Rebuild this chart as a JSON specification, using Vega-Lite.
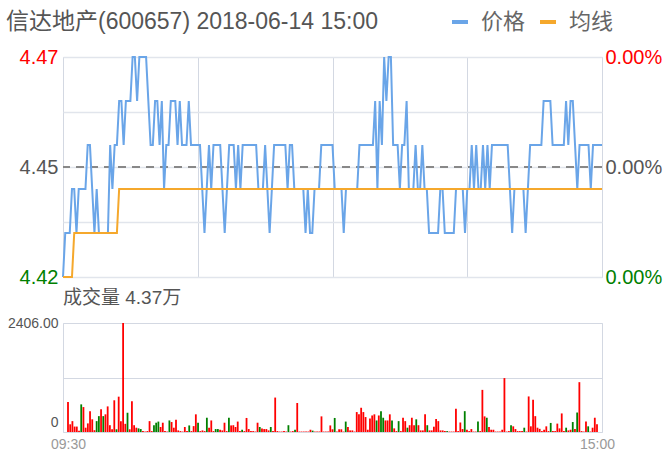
{
"$schema": "https://vega.github.io/schema/vega-lite/v6.json",
"autosize": {"type": "pad"},
"padding": {"left": 5, "top": 10, "right": 5, "bottom": 0},
"background": "white",
"bounds": "flush",
"spacing": 46,
"config": {"view": {"stroke": "#d3d8e2", "strokeWidth": 1}, "font": "Liberation Sans, Noto Sans CJK SC", "axis": {"labelFont": "Liberation Sans"}},
"resolve": {"scale": {"color": "independent"}, "legend": {"color": "independent"}},
"datasets": {"m": [
{"i":0,"p":4.42,"a":4.42,"v":660,"d":"r"},{"i":1,"p":4.43,"a":4.42,"v":170,"d":"r"},{"i":2,"p":4.43,"a":4.42,"v":240,"d":"r"},{"i":3,"p":4.43,"a":4.42,"v":120,"d":"r"},{"i":4,"p":4.44,"a":4.42,"v":120,"d":"r"},
{"i":5,"p":4.44,"a":4.43,"v":30,"d":"r"},{"i":6,"p":4.43,"a":4.43,"v":610,"d":"g"},{"i":7,"p":4.44,"a":4.43,"v":550,"d":"r"},{"i":8,"p":4.44,"a":4.43,"v":95,"d":"r"},{"i":9,"p":4.44,"a":4.43,"v":190,"d":"r"},
{"i":10,"p":4.44,"a":4.43,"v":460,"d":"r"},{"i":11,"p":4.45,"a":4.43,"v":280,"d":"r"},{"i":12,"p":4.45,"a":4.43,"v":40,"d":"r"},{"i":13,"p":4.44,"a":4.43,"v":240,"d":"g"},{"i":14,"p":4.43,"a":4.43,"v":350,"d":"g"},
{"i":15,"p":4.44,"a":4.43,"v":500,"d":"r"},{"i":16,"p":4.43,"a":4.43,"v":350,"d":"g"},{"i":17,"p":4.43,"a":4.43,"v":390,"d":"r"},{"i":18,"p":4.43,"a":4.43,"v":565,"d":"r"},{"i":19,"p":4.43,"a":4.43,"v":150,"d":"r"},
{"i":20,"p":4.43,"a":4.43,"v":60,"d":"r"},{"i":21,"p":4.45,"a":4.43,"v":700,"d":"r"},{"i":22,"p":4.44,"a":4.43,"v":60,"d":"g"},{"i":23,"p":4.45,"a":4.43,"v":780,"d":"r"},{"i":24,"p":4.45,"a":4.43,"v":240,"d":"r"},
{"i":25,"p":4.46,"a":4.44,"v":2406,"d":"r"},{"i":26,"p":4.46,"a":4.44,"v":180,"d":"r"},{"i":27,"p":4.45,"a":4.44,"v":425,"d":"g"},{"i":28,"p":4.46,"a":4.44,"v":60,"d":"r"},{"i":29,"p":4.46,"a":4.44,"v":680,"d":"r"},
{"i":30,"p":4.46,"a":4.44,"v":150,"d":"r"},{"i":31,"p":4.47,"a":4.44,"v":95,"d":"r"},{"i":32,"p":4.47,"a":4.44,"v":80,"d":"g"},{"i":33,"p":4.46,"a":4.44,"v":65,"d":"g"},{"i":34,"p":4.47,"a":4.44,"v":20,"d":"r"},
{"i":35,"p":4.47,"a":4.44,"v":10,"d":"r"},{"i":36,"p":4.47,"a":4.44,"v":20,"d":"r"},{"i":37,"p":4.47,"a":4.44,"v":240,"d":"r"},{"i":38,"p":4.46,"a":4.44,"v":20,"d":"r"},{"i":39,"p":4.45,"a":4.44,"v":150,"d":"g"},
{"i":40,"p":4.45,"a":4.44,"v":205,"d":"g"},{"i":41,"p":4.46,"a":4.44,"v":230,"d":"g"},{"i":42,"p":4.46,"a":4.44,"v":110,"d":"r"},{"i":43,"p":4.45,"a":4.44,"v":205,"d":"r"},{"i":44,"p":4.46,"a":4.44,"v":20,"d":"r"},
{"i":45,"p":4.44,"a":4.44,"v":10,"d":"r"},{"i":46,"p":4.45,"a":4.44,"v":255,"d":"g"},{"i":47,"p":4.45,"a":4.44,"v":220,"d":"r"},{"i":48,"p":4.46,"a":4.44,"v":95,"d":"r"},{"i":49,"p":4.46,"a":4.44,"v":270,"d":"r"},
{"i":50,"p":4.46,"a":4.44,"v":35,"d":"r"},{"i":51,"p":4.45,"a":4.44,"v":20,"d":"r"},{"i":52,"p":4.46,"a":4.44,"v":10,"d":"r"},{"i":53,"p":4.45,"a":4.44,"v":110,"d":"r"},{"i":54,"p":4.45,"a":4.44,"v":20,"d":"r"},
{"i":55,"p":4.45,"a":4.44,"v":145,"d":"g"},{"i":56,"p":4.46,"a":4.44,"v":20,"d":"r"},{"i":57,"p":4.45,"a":4.44,"v":130,"d":"r"},{"i":58,"p":4.45,"a":4.44,"v":390,"d":"r"},{"i":59,"p":4.45,"a":4.44,"v":205,"d":"g"},
{"i":60,"p":4.45,"a":4.44,"v":20,"d":"r"},{"i":61,"p":4.45,"a":4.44,"v":35,"d":"r"},{"i":62,"p":4.44,"a":4.44,"v":20,"d":"r"},{"i":63,"p":4.43,"a":4.44,"v":315,"d":"g"},{"i":64,"p":4.44,"a":4.44,"v":95,"d":"r"},
{"i":65,"p":4.45,"a":4.44,"v":255,"d":"r"},{"i":66,"p":4.44,"a":4.44,"v":20,"d":"r"},{"i":67,"p":4.45,"a":4.44,"v":65,"d":"g"},{"i":68,"p":4.45,"a":4.44,"v":65,"d":"g"},{"i":69,"p":4.45,"a":4.44,"v":50,"d":"r"},
{"i":70,"p":4.45,"a":4.44,"v":35,"d":"r"},{"i":71,"p":4.44,"a":4.44,"v":205,"d":"r"},{"i":72,"p":4.43,"a":4.44,"v":20,"d":"r"},{"i":73,"p":4.44,"a":4.44,"v":315,"d":"g"},{"i":74,"p":4.45,"a":4.44,"v":145,"d":"r"},
{"i":75,"p":4.45,"a":4.44,"v":150,"d":"r"},{"i":76,"p":4.45,"a":4.44,"v":110,"d":"r"},{"i":77,"p":4.44,"a":4.44,"v":230,"d":"r"},{"i":78,"p":4.45,"a":4.44,"v":20,"d":"r"},{"i":79,"p":4.44,"a":4.44,"v":50,"d":"g"},
{"i":80,"p":4.45,"a":4.44,"v":20,"d":"r"},{"i":81,"p":4.45,"a":4.44,"v":310,"d":"r"},{"i":82,"p":4.45,"a":4.44,"v":65,"d":"r"},{"i":83,"p":4.45,"a":4.44,"v":20,"d":"r"},{"i":84,"p":4.45,"a":4.44,"v":20,"d":"r"},
{"i":85,"p":4.45,"a":4.44,"v":10,"d":"r"},{"i":86,"p":4.45,"a":4.44,"v":205,"d":"r"},{"i":87,"p":4.44,"a":4.44,"v":110,"d":"g"},{"i":88,"p":4.44,"a":4.44,"v":75,"d":"r"},{"i":89,"p":4.44,"a":4.44,"v":65,"d":"r"},
{"i":90,"p":4.45,"a":4.44,"v":65,"d":"r"},{"i":91,"p":4.44,"a":4.44,"v":35,"d":"r"},{"i":92,"p":4.43,"a":4.44,"v":110,"d":"g"},{"i":93,"p":4.44,"a":4.44,"v":20,"d":"r"},{"i":94,"p":4.45,"a":4.44,"v":760,"d":"r"},
{"i":95,"p":4.45,"a":4.44,"v":20,"d":"r"},{"i":96,"p":4.45,"a":4.44,"v":10,"d":"r"},{"i":97,"p":4.45,"a":4.44,"v":10,"d":"r"},{"i":98,"p":4.45,"a":4.44,"v":20,"d":"r"},{"i":99,"p":4.45,"a":4.44,"v":10,"d":"r"},
{"i":100,"p":4.44,"a":4.44,"v":150,"d":"g"},{"i":101,"p":4.45,"a":4.44,"v":10,"d":"r"},{"i":102,"p":4.45,"a":4.44,"v":20,"d":"r"},{"i":103,"p":4.44,"a":4.44,"v":50,"d":"g"},{"i":104,"p":4.44,"a":4.44,"v":640,"d":"r"},
{"i":105,"p":4.44,"a":4.44,"v":10,"d":"r"},{"i":106,"p":4.44,"a":4.44,"v":10,"d":"r"},{"i":107,"p":4.44,"a":4.44,"v":10,"d":"r"},{"i":108,"p":4.43,"a":4.44,"v":10,"d":"r"},{"i":109,"p":4.44,"a":4.44,"v":10,"d":"r"},
{"i":110,"p":4.43,"a":4.44,"v":50,"d":"r"},{"i":111,"p":4.43,"a":4.44,"v":30,"d":"g"},{"i":112,"p":4.44,"a":4.44,"v":10,"d":"r"},{"i":113,"p":4.44,"a":4.44,"v":10,"d":"r"},{"i":114,"p":4.44,"a":4.44,"v":10,"d":"r"},
{"i":115,"p":4.45,"a":4.44,"v":345,"d":"r"},{"i":116,"p":4.45,"a":4.44,"v":10,"d":"r"},{"i":117,"p":4.45,"a":4.44,"v":10,"d":"r"},{"i":118,"p":4.45,"a":4.44,"v":10,"d":"r"},{"i":119,"p":4.45,"a":4.44,"v":145,"d":"r"},
{"i":120,"p":4.45,"a":4.44,"v":60,"d":"r"},{"i":121,"p":4.44,"a":4.44,"v":310,"d":"g"},{"i":122,"p":4.44,"a":4.44,"v":10,"d":"r"},{"i":123,"p":4.44,"a":4.44,"v":60,"d":"r"},{"i":124,"p":4.44,"a":4.44,"v":60,"d":"r"},
{"i":125,"p":4.43,"a":4.44,"v":10,"d":"r"},{"i":126,"p":4.44,"a":4.44,"v":230,"d":"g"},{"i":127,"p":4.44,"a":4.44,"v":110,"d":"r"},{"i":128,"p":4.44,"a":4.44,"v":35,"d":"r"},{"i":129,"p":4.44,"a":4.44,"v":35,"d":"r"},
{"i":130,"p":4.44,"a":4.44,"v":10,"d":"r"},{"i":131,"p":4.44,"a":4.44,"v":440,"d":"r"},{"i":132,"p":4.45,"a":4.44,"v":390,"d":"r"},{"i":133,"p":4.45,"a":4.44,"v":535,"d":"r"},{"i":134,"p":4.45,"a":4.44,"v":440,"d":"r"},
{"i":135,"p":4.45,"a":4.44,"v":330,"d":"r"},{"i":136,"p":4.45,"a":4.44,"v":50,"d":"r"},{"i":137,"p":4.45,"a":4.44,"v":300,"d":"r"},{"i":138,"p":4.45,"a":4.44,"v":365,"d":"r"},{"i":139,"p":4.46,"a":4.44,"v":390,"d":"r"},
{"i":140,"p":4.44,"a":4.44,"v":255,"d":"g"},{"i":141,"p":4.46,"a":4.44,"v":365,"d":"r"},{"i":142,"p":4.45,"a":4.44,"v":460,"d":"g"},{"i":143,"p":4.47,"a":4.44,"v":315,"d":"g"},{"i":144,"p":4.46,"a":4.44,"v":255,"d":"r"},
{"i":145,"p":4.47,"a":4.44,"v":255,"d":"r"},{"i":146,"p":4.47,"a":4.44,"v":390,"d":"r"},{"i":147,"p":4.45,"a":4.44,"v":255,"d":"g"},{"i":148,"p":4.45,"a":4.44,"v":80,"d":"r"},{"i":149,"p":4.45,"a":4.44,"v":20,"d":"r"},
{"i":150,"p":4.44,"a":4.44,"v":240,"d":"g"},{"i":151,"p":4.45,"a":4.44,"v":20,"d":"r"},{"i":152,"p":4.45,"a":4.44,"v":315,"d":"r"},{"i":153,"p":4.46,"a":4.44,"v":240,"d":"r"},{"i":154,"p":4.44,"a":4.44,"v":95,"d":"g"},
{"i":155,"p":4.44,"a":4.44,"v":150,"d":"r"},{"i":156,"p":4.44,"a":4.44,"v":315,"d":"r"},{"i":157,"p":4.45,"a":4.44,"v":150,"d":"r"},{"i":158,"p":4.44,"a":4.44,"v":280,"d":"g"},{"i":159,"p":4.44,"a":4.44,"v":150,"d":"r"},
{"i":160,"p":4.45,"a":4.44,"v":35,"d":"r"},{"i":161,"p":4.44,"a":4.44,"v":35,"d":"r"},{"i":162,"p":4.44,"a":4.44,"v":390,"d":"r"},{"i":163,"p":4.43,"a":4.44,"v":150,"d":"g"},{"i":164,"p":4.43,"a":4.44,"v":35,"d":"r"},
{"i":165,"p":4.43,"a":4.44,"v":35,"d":"r"},{"i":166,"p":4.43,"a":4.44,"v":117,"d":"r"},{"i":167,"p":4.43,"a":4.44,"v":285,"d":"r"},{"i":168,"p":4.44,"a":4.44,"v":240,"d":"r"},{"i":169,"p":4.44,"a":4.44,"v":35,"d":"r"},
{"i":170,"p":4.43,"a":4.44,"v":35,"d":"r"},{"i":171,"p":4.43,"a":4.44,"v":20,"d":"r"},{"i":172,"p":4.43,"a":4.44,"v":20,"d":"g"},{"i":173,"p":4.43,"a":4.44,"v":10,"d":"r"},{"i":174,"p":4.43,"a":4.44,"v":10,"d":"r"},
{"i":175,"p":4.44,"a":4.44,"v":10,"d":"r"},{"i":176,"p":4.44,"a":4.44,"v":515,"d":"r"},{"i":177,"p":4.44,"a":4.44,"v":20,"d":"r"},{"i":178,"p":4.44,"a":4.44,"v":210,"d":"r"},{"i":179,"p":4.43,"a":4.44,"v":65,"d":"r"},
{"i":180,"p":4.44,"a":4.44,"v":460,"d":"g"},{"i":181,"p":4.44,"a":4.44,"v":50,"d":"r"},{"i":182,"p":4.45,"a":4.44,"v":20,"d":"r"},{"i":183,"p":4.44,"a":4.44,"v":65,"d":"r"},{"i":184,"p":4.45,"a":4.44,"v":10,"d":"r"},
{"i":185,"p":4.44,"a":4.44,"v":10,"d":"r"},{"i":186,"p":4.44,"a":4.44,"v":230,"d":"g"},{"i":187,"p":4.45,"a":4.44,"v":20,"d":"r"},{"i":188,"p":4.44,"a":4.44,"v":930,"d":"r"},{"i":189,"p":4.45,"a":4.44,"v":345,"d":"r"},
{"i":190,"p":4.44,"a":4.44,"v":315,"d":"g"},{"i":191,"p":4.45,"a":4.44,"v":110,"d":"r"},{"i":192,"p":4.45,"a":4.44,"v":50,"d":"r"},{"i":193,"p":4.45,"a":4.44,"v":50,"d":"r"},{"i":194,"p":4.45,"a":4.44,"v":10,"d":"r"},
{"i":195,"p":4.45,"a":4.44,"v":10,"d":"r"},{"i":196,"p":4.45,"a":4.44,"v":10,"d":"r"},{"i":197,"p":4.45,"a":4.44,"v":50,"d":"r"},{"i":198,"p":4.45,"a":4.44,"v":1190,"d":"r"},{"i":199,"p":4.44,"a":4.44,"v":10,"d":"r"},
{"i":200,"p":4.43,"a":4.44,"v":20,"d":"r"},{"i":201,"p":4.44,"a":4.44,"v":150,"d":"g"},{"i":202,"p":4.44,"a":4.44,"v":125,"d":"r"},{"i":203,"p":4.44,"a":4.44,"v":65,"d":"r"},{"i":204,"p":4.44,"a":4.44,"v":20,"d":"r"},
{"i":205,"p":4.44,"a":4.44,"v":20,"d":"r"},{"i":206,"p":4.43,"a":4.44,"v":20,"d":"r"},{"i":207,"p":4.44,"a":4.44,"v":95,"d":"g"},{"i":208,"p":4.45,"a":4.44,"v":10,"d":"r"},{"i":209,"p":4.45,"a":4.44,"v":785,"d":"r"},
{"i":210,"p":4.45,"a":4.44,"v":125,"d":"r"},{"i":211,"p":4.45,"a":4.44,"v":710,"d":"r"},{"i":212,"p":4.45,"a":4.44,"v":350,"d":"r"},{"i":213,"p":4.45,"a":4.44,"v":95,"d":"r"},{"i":214,"p":4.46,"a":4.44,"v":70,"d":"r"},
{"i":215,"p":4.46,"a":4.44,"v":20,"d":"r"},{"i":216,"p":4.46,"a":4.44,"v":50,"d":"r"},{"i":217,"p":4.46,"a":4.44,"v":125,"d":"r"},{"i":218,"p":4.45,"a":4.44,"v":20,"d":"r"},{"i":219,"p":4.45,"a":4.44,"v":200,"d":"g"},
{"i":220,"p":4.45,"a":4.44,"v":20,"d":"r"},{"i":221,"p":4.45,"a":4.44,"v":20,"d":"r"},{"i":222,"p":4.45,"a":4.44,"v":185,"d":"r"},{"i":223,"p":4.45,"a":4.44,"v":80,"d":"r"},{"i":224,"p":4.46,"a":4.44,"v":410,"d":"r"},
{"i":225,"p":4.45,"a":4.44,"v":20,"d":"r"},{"i":226,"p":4.46,"a":4.44,"v":95,"d":"g"},{"i":227,"p":4.46,"a":4.44,"v":35,"d":"r"},{"i":228,"p":4.45,"a":4.44,"v":50,"d":"r"},{"i":229,"p":4.44,"a":4.44,"v":220,"d":"g"},
{"i":230,"p":4.45,"a":4.44,"v":65,"d":"r"},{"i":231,"p":4.45,"a":4.44,"v":430,"d":"g"},{"i":232,"p":4.45,"a":4.44,"v":1100,"d":"r"},{"i":233,"p":4.45,"a":4.44,"v":20,"d":"r"},{"i":234,"p":4.45,"a":4.44,"v":10,"d":"r"},
{"i":235,"p":4.44,"a":4.44,"v":230,"d":"r"},{"i":236,"p":4.45,"a":4.44,"v":125,"d":"g"},{"i":237,"p":4.45,"a":4.44,"v":10,"d":"r"},{"i":238,"p":4.45,"a":4.44,"v":95,"d":"r"},{"i":239,"p":4.45,"a":4.44,"v":315,"d":"r"},
{"i":240,"p":4.45,"a":4.44,"v":170,"d":"r"}
]},
"vconcat": [
{
"width": 539, "height": 220,
"data": {"name": "m"},
"resolve": {"axis": {"y": "independent"}},
"layer": [
{"mark": {"type": "rule", "strokeDash": [8, 6], "color": "#888888", "strokeWidth": 2}, "encoding": {"y": {"datum": 4.445, "type": "quantitative", "axis": null, "scale": {"domain": [4.42, 4.47], "nice": false, "zero": false}}}},
{"mark": {"type": "line", "strokeWidth": 2, "interpolate": "linear"},
"encoding": {
"x": {"field": "i", "type": "quantitative", "scale": {"domain": [0, 240], "nice": false}, "axis": {"values": [0, 60, 120, 180, 240], "labels": false, "ticks": false, "domain": false, "grid": true, "gridColor": "#d3d8e2", "title": null}},
"y": {"field": "p", "type": "quantitative", "scale": {"domain": [4.42, 4.47], "nice": false, "zero": false}, "axis": {"orient": "left", "values": [4.42, 4.4325, 4.445, 4.4575, 4.47], "labelExpr": "datum.value < 4.425 ? '4.42' : datum.value > 4.465 ? '4.47' : (datum.value > 4.44 && datum.value < 4.45) ? '4.45' : ''", "labelColor": {"condition": [{"test": "datum.value > 4.465", "value": "#ff0000"}, {"test": "datum.value < 4.425", "value": "#008000"}], "value": "#555555"}, "labelFontSize": 20, "labelPadding": 5, "labelOverlap": false, "ticks": false, "domain": false, "grid": true, "gridColor": "#e1e5ec", "gridWidth": 1.5, "title": null}},
"color": {"datum": "价格", "type": "nominal", "scale": {"domain": ["价格", "均线"], "range": ["#6aa5e8", "#f5a82c"]}, "legend": {"orient": "none", "legendX": -57, "legendY": -46, "direction": "horizontal", "title": "信达地产(600657) 2018-06-14 15:00", "titleOrient": "left", "titleFontSize": 23, "titleFontWeight": "normal", "titleColor": "#555555", "titleFont": "Liberation Sans, Noto Sans CJK SC", "titleLimit": 600, "titlePadding": 70, "titleBaseline": "top", "titleAnchor": "start", "symbolType": "stroke", "symbolSize": 256, "symbolStrokeWidth": 4, "labelFontSize": 22, "labelColor": "#666666", "labelFont": "Noto Sans CJK SC", "labelOffset": 10, "columnPadding": 6}}
}},
{"mark": {"type": "line", "strokeWidth": 2},
"encoding": {
"x": {"field": "i", "type": "quantitative"},
"y": {"field": "a", "type": "quantitative", "axis": {"orient": "right", "values": [4.42, 4.445, 4.47], "labelExpr": "'0.00%'", "labelColor": {"condition": [{"test": "datum.value > 4.465", "value": "#ff0000"}, {"test": "datum.value < 4.425", "value": "#008000"}], "value": "#555555"}, "labelFontSize": 20, "labelPadding": 3, "labelOverlap": false, "ticks": false, "domain": false, "grid": false, "title": null}},
"color": {"datum": "均线", "type": "nominal"}
}}
]
},
{
"width": 539, "height": 109,
"data": {"name": "m"},
"title": {"text": "成交量 4.37万", "anchor": "start", "frame": "group", "fontSize": 19, "fontWeight": "normal", "color": "#555555", "font": "Liberation Sans, Noto Sans CJK SC", "baseline": "alphabetic", "offset": 8, "dy": 15},
"mark": {"type": "bar", "size": 1.8},
"encoding": {
"x": {"field": "i", "type": "quantitative", "scale": {"domain": [0, 240], "nice": false}, "axis": {"values": [0, 240], "labelExpr": "datum.value == 0 ? '09:30' : '15:00'", "labelFlush": false, "grid": false, "ticks": false, "domain": false, "labelColor": "#999999", "labelFontSize": 14, "labelPadding": 5, "title": null}},
"y": {"field": "v", "type": "quantitative", "scale": {"domain": [0, 2406], "nice": false}, "axis": {"values": [0, 1203, 2406], "labelExpr": "datum.value == 0 ? '0' : datum.value == 2406 ? '2406.00' : ''", "labelBaseline": {"condition": {"test": "datum.value == 0", "value": "bottom"}, "value": "middle"}, "labelOffset": {"condition": {"test": "datum.value == 0", "value": -3}, "value": 0}, "labelFontSize": 14, "labelColor": "#555555", "labelPadding": 5, "labelOverlap": false, "ticks": false, "domain": false, "grid": true, "gridColor": "#d3d8e2", "title": null}},
"color": {"field": "d", "type": "nominal", "scale": {"domain": ["r", "g"], "range": ["#ff0000", "#008000"]}, "legend": null}
}
}
]
}
